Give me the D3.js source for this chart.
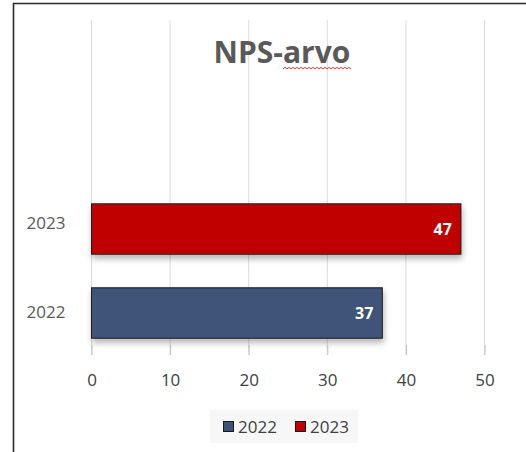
<!DOCTYPE html>
<html><head><meta charset="utf-8">
<script src="https://cdn.jsdelivr.net/npm/d3@7/dist/d3.min.js"></script>
<style>html,body{margin:0;padding:0;background:#fff;}svg{display:block;}</style>
</head><body>
<script>
const title = "NPS-arvo";
const categories = ["2022", "2023"];
const values = [37, 47];
const seriesColors = ["#3F5378", "#C00000"];
const tickValues = [0, 10, 20, 30, 40, 50];

const W = 526, H = 452;
const svg = d3.select("body").append("svg").attr("width", W).attr("height", H);
const font = "'Open Sans', sans-serif";

const defs = svg.append("defs");
const f = defs.append("filter").attr("id", "sh").attr("x", "-10%").attr("y", "-20%").attr("width", "130%").attr("height", "160%");
f.append("feGaussianBlur").attr("in", "SourceAlpha").attr("stdDeviation", 3);
f.append("feOffset").attr("dx", 1).attr("dy", 4).attr("result", "o");
f.append("feComponentTransfer").append("feFuncA").attr("type", "linear").attr("slope", 0.3);
const fm = f.append("feMerge"); fm.append("feMergeNode"); fm.append("feMergeNode").attr("in", "SourceGraphic");

// frame
svg.append("line").attr("x1", 13.5).attr("x2", 13.5).attr("y1", 3).attr("y2", H).attr("stroke", "#2a2a2a").attr("stroke-width", 1.6);
svg.append("line").attr("x1", 13).attr("x2", W).attr("y1", 3.5).attr("y2", 3.5).attr("stroke", "#2a2a2a").attr("stroke-width", 1.6);

const x = d3.scaleLinear().domain([0, 50]).range([91.5, 484.5]);
const y = d3.scaleBand().domain(["2023", "2022"]).range([187, 355]).paddingInner(0.4).paddingOuter(0.2);

// gridlines
svg.append("g").selectAll("line").data(tickValues).join("line")
  .attr("x1", d => x(d)).attr("x2", d => x(d)).attr("y1", 20).attr("y2", 355)
  .attr("stroke", "#dcdcdc").attr("stroke-width", 1);

// x axis
const xAxis = svg.append("g").attr("transform", "translate(0,345)")
  .call(d3.axisBottom(x).tickValues(tickValues).tickSize(10).tickPadding(19).tickFormat(d3.format("d")));
xAxis.select(".domain").remove();
xAxis.selectAll(".tick line").attr("stroke", "#bfbfbf");
xAxis.selectAll(".tick text").attr("fill", "#404040").style("font-family", font).style("font-size", "17px");

// y axis labels
const yAxis = svg.append("g").attr("transform", "translate(91.5,0)")
  .call(d3.axisLeft(y).tickSize(0).tickPadding(26));
yAxis.select(".domain").remove();
yAxis.selectAll(".tick text").attr("fill", "#595959").style("font-family", font).style("font-size", "17px")
  .attr("dy", d => d === "2023" ? "0.02em" : "0.32em");

// bars
const data = categories.map((c, i) => ({c, v: values[i], col: seriesColors[i]}));
svg.append("g").selectAll("rect").data(data).join("rect")
  .attr("x", x(0)).attr("y", d => y(d.c)).attr("width", d => x(d.v) - x(0)).attr("height", y.bandwidth())
  .attr("fill", d => d.col).attr("stroke", "#1a1a1a").attr("stroke-width", 1).attr("filter", "url(#sh)");

svg.append("g").selectAll("text").data(data).join("text")
  .attr("x", d => x(d.v) - 9).attr("y", d => y(d.c) + y.bandwidth() / 2 + 6)
  .attr("text-anchor", "end").attr("fill", "#fff").style("font-family", font).style("font-weight", "bold").style("font-size", "16px")
  .text(d => d.v);

// title
const t = svg.append("text").attr("x", 282).attr("y", 63).attr("text-anchor", "middle")
  .attr("fill", "#595959").style("font-family", font).style("font-weight", "bold").style("font-size", "30px").text(title);
// spell-check squiggle under "arvo"
(function(){
  const node = t.node();
  const start = node.getStartPositionOfChar(4).x;
  const end = node.getEndPositionOfChar(title.length - 1).x;
  let p = "M" + start + ",69";
  for (let xx = start, k = 0; xx < end; xx += 2, k++) p += "L" + (xx + 2) + "," + (k % 2 ? 69 : 67.3);
  svg.append("path").attr("d", p).attr("fill", "none").attr("stroke", "#e53935").attr("stroke-width", 1);
})();

// legend
const lg = svg.append("g");
lg.append("rect").attr("x", 210).attr("y", 410).attr("width", 148).attr("height", 33).attr("fill", "#f7f7f7");
const legX = [223, 295];
categories.forEach((c, i) => {
  lg.append("rect").attr("x", legX[i] + 0.5).attr("y", 421.5).attr("width", 10).attr("height", 10)
    .attr("fill", seriesColors[i]).attr("stroke", "#1a1a1a").attr("stroke-width", 1);
  lg.append("text").attr("x", legX[i] + 15).attr("y", 433).attr("fill", "#404040")
    .style("font-family", font).style("font-size", "17px").text(c);
});
</script>
</body></html>
